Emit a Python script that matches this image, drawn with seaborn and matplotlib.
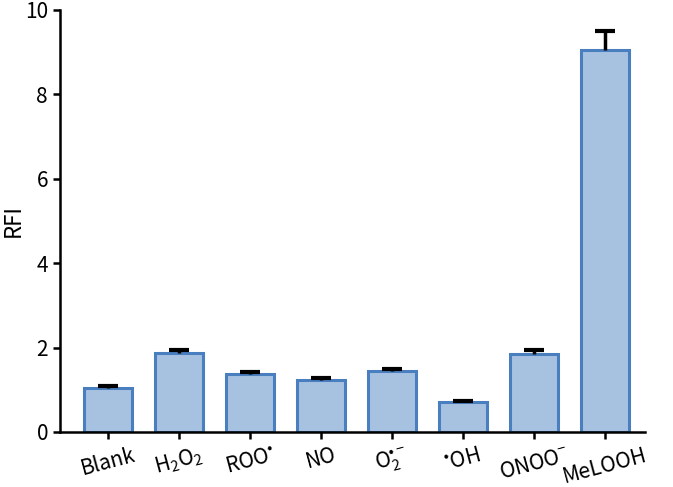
import numpy as np
import pandas as pd
import matplotlib
matplotlib.use("Agg")
import matplotlib.pyplot as plt
import seaborn as sns

# data
labels = ["Blank", "H$_2$O$_2$", "ROO$^{\\bullet}$", "NO", "O$_2^{\\bullet-}$",
          "$^{\\bullet}$OH", "ONOO$^{-}$", "MeLOOH"]
values = [1.03, 1.87, 1.37, 1.23, 1.45, 0.70, 1.85, 9.05]
errors = [0.05, 0.08, 0.05, 0.05, 0.05, 0.04, 0.08, 0.45]

sns.set_style("ticks")
plt.rcParams['font.family'] = ['Noto Sans CJK SC', 'DejaVu Sans']
plt.rcParams['mathtext.fontset'] = 'custom'
plt.rcParams['mathtext.rm'] = 'Noto Sans CJK SC'
plt.rcParams['mathtext.it'] = 'Noto Sans CJK SC'
plt.rcParams['mathtext.default'] = 'regular'
plt.rcParams['text.color'] = 'black'
plt.rcParams['axes.labelcolor'] = 'black'

df = pd.DataFrame({"group": labels, "rfi": values})

fig = plt.figure(figsize=(6.73, 4.87), dpi=100)
ax = fig.add_axes([0.089, 0.113, 0.869, 0.867])

sns.barplot(data=df, x="group", y="rfi", ax=ax, color="#a7c1e0",
            edgecolor="#4a7fbf", linewidth=2.2, width=0.68, errorbar=None,
            saturation=1)
_, caps, _ = ax.errorbar(x=np.arange(len(values)), y=values,
                         yerr=[np.zeros(len(errors)), errors], fmt="none",
                         ecolor="black", elinewidth=2.5, capsize=7,
                         capthick=3, zorder=3)
caps[0].set_visible(False)  # only the upper cap

ax.set_ylim(0, 10)
ax.set_xlim(-0.68, 7.56)
ax.set_yticks([0, 2, 4, 6, 8, 10])
ax.set_xlabel("")
ax.set_ylabel("RFI", fontsize=16)
ax.yaxis.set_label_coords(-0.06, 0.5)
sns.despine(ax=ax)
for s in ["left", "bottom"]:
    ax.spines[s].set_linewidth(1.8)
    ax.spines[s].set_color("black")
ax.tick_params(width=1.8, length=5, labelsize=15, colors="black")
ax.tick_params(axis="x", labelsize=15)
plt.setp(ax.get_xticklabels(), rotation=15, ha="center")

fig.savefig("out.png", dpi=100)
